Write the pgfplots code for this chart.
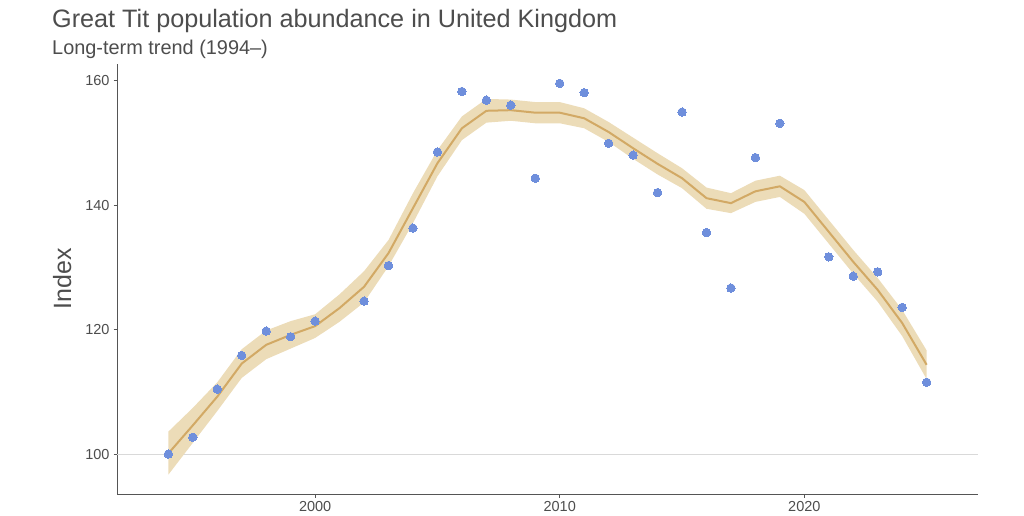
\documentclass[border=0pt]{standalone}
\usepackage{pgfplots}
\pgfplotsset{compat=1.18}
\usepackage{pgfplotstable}
\usepackage{fontspec}
\setmainfont{Liberation Sans}
\definecolor{txt}{HTML}{4D4D4D}
\definecolor{axl}{HTML}{555555}
\definecolor{pts}{HTML}{6F8FDC}
\definecolor{band}{HTML}{ECDCB8}
\definecolor{trend}{HTML}{D2A965}
\definecolor{ref}{HTML}{D9D9D9}

\pgfplotstableread{
year mid
1994 100.2
1995 104.7
1996 109.3
1997 114.6
1998 117.6
1999 119.2
2000 120.6
2001 123.5
2002 126.9
2003 132.3
2004 139.5
2005 146.7
2006 152.3
2007 155.1
2008 155.2
2009 154.8
2010 154.8
2011 153.9
2012 151.7
2013 149.1
2014 146.6
2015 144.3
2016 141.1
2017 140.3
2018 142.2
2019 143.0
2020 140.5
2021 135.7
2022 130.9
2023 126.4
2024 121.1
2025 114.4
}\trendtab

% confidence band as a closed outline: upper edge forward, lower edge back
\pgfplotstableread{
year val
1994 103.7
1995 107.5
1996 111.6
1997 116.9
1998 119.9
1999 121.4
2000 122.5
2001 125.7
2002 129.4
2003 134.4
2004 141.9
2005 148.8
2006 154.2
2007 157.0
2008 156.9
2009 156.5
2010 156.5
2011 155.5
2012 153.3
2013 150.8
2014 148.3
2015 145.9
2016 142.8
2017 141.9
2018 143.9
2019 144.7
2020 142.4
2021 137.6
2022 132.8
2023 128.3
2024 123.2
2025 116.7
2025 112.1
2024 119.0
2023 124.5
2022 129.0
2021 133.8
2020 138.6
2019 141.3
2018 140.5
2017 138.7
2016 139.4
2015 142.7
2014 144.9
2013 147.4
2012 150.1
2011 152.3
2010 153.1
2009 153.1
2008 153.5
2007 153.2
2006 150.4
2005 144.6
2004 137.1
2003 130.2
2002 124.4
2001 121.3
2000 118.7
1999 117.0
1998 115.3
1997 112.3
1996 107.0
1995 101.9
1994 96.8
}\bandtab

\pgfplotstableread{
year idx
1994 100.1
1995 102.8
1996 110.5
1997 115.9
1998 119.8
1999 118.9
2000 121.4
2002 124.6
2003 130.3
2004 136.3
2005 148.5
2006 158.2
2007 156.8
2008 156.0
2009 144.3
2010 159.5
2011 158.0
2012 149.9
2013 148.0
2014 142.0
2015 154.9
2016 135.6
2017 126.7
2018 147.6
2019 153.1
2021 131.7
2022 128.6
2023 129.3
2024 123.6
2025 111.6
}\pointtab

\begin{document}
\begin{tikzpicture}
\path[use as bounding box] (0,0) rectangle (1024pt,516pt);
\begin{axis}[
  at={(117pt,22pt)}, anchor=south west,
  width=861pt, height=430pt, scale only axis,
  xmin=1991.9, xmax=2027.1,
  ymin=93.7, ymax=162.6,
  axis x line*=bottom, axis y line*=left,
  axis line style={axl, line width=0.9pt, -},
  xtick={2000,2010,2020},
  ytick={100,120,140,160},
  tick align=outside,
  major tick length=3.5pt,
  tick style={axl, line width=0.8pt},
  /pgf/number format/assume math mode=true,
  /pgf/number format/1000 sep={},
  ticklabel style={font=\fontsize{14.5}{16}\selectfont, text=txt},
  xticklabel style={yshift=-0.5pt},
  yticklabel style={xshift=-0.5pt},
]
\addplot[ref, line width=1pt] coordinates {(1991.9,100) (2027.1,100)};
\addplot[fill=band, draw=none] table[x=year, y=val] {\bandtab} -- cycle;
\addplot[trend, line width=2pt] table[x=year, y=mid] {\trendtab};
\addplot[pts, only marks, mark=*, mark size=4.2pt, mark options={fill=pts, draw=pts, line width=0pt}] table[x=year, y=idx] {\pointtab};
\end{axis}
\node[anchor=base west, text=txt, font=\fontsize{25.2}{28}\selectfont, inner sep=0pt] at (52pt,488pt) {Great Tit population abundance in United Kingdom};
\node[anchor=base west, text=txt, font=\fontsize{19.9}{23}\selectfont, inner sep=0pt] at (52pt,461pt) {Long-term trend (1994--)};
\node[anchor=base, rotate=90, text=txt, font=\fontsize{25}{28}\selectfont, inner sep=0pt] at (71pt,237pt) {Index};
\end{tikzpicture}
\end{document}
